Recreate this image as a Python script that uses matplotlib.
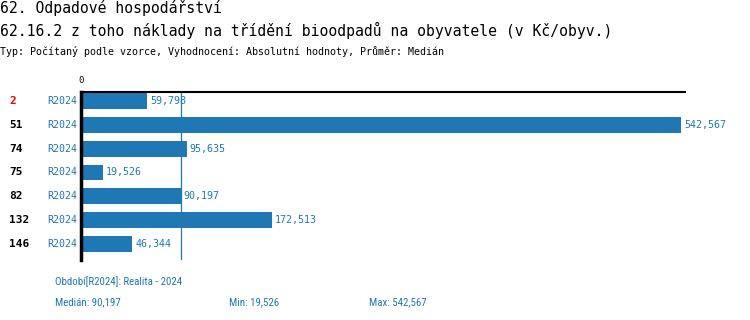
import matplotlib
matplotlib.use('Agg')
import matplotlib.pyplot as plt
import matplotlib.transforms as mtransforms
from matplotlib import font_manager

title1 = '62. Odpadové hospodářství'
title2 = '62.16.2 z toho náklady na třídění bioodpadů na obyvatele (v Kč/obyv.)'
subtitle = 'Typ: Počítaný podle vzorce, Vyhodnocení: Absolutní hodnoty, Průměr: Medián'

ids = ['2', '51', '74', '75', '82', '132', '146']
periods = ['R2024'] * 7
values = [59798, 542567, 95635, 19526, 90197, 172513, 46344]
median = 90197

footer_period = 'Období[R2024]: Realita - 2024'
footer_stats = ['Medián: 90,197', 'Min: 19,526', 'Max: 542,567']

blue = '#1f77b4'
mono = 'DejaVu Sans Mono'

# narrow font for the footer if one is there
names = {f.name for f in font_manager.fontManager.ttflist}
narrow = mono
for cand in ['Liberation Sans Narrow', 'DejaVu Sans Condensed', 'Roboto Condensed', 'Open Sans Condensed']:
    if cand in names:
        narrow = cand
        break

fig = plt.figure(figsize=(7.5, 3.2), dpi=100)
W, H = 750, 320

def fx(px):
    return px / W

def fy(py):
    return 1 - py / H

fig.text(0, fy(13), title1, family=mono, size=10.6, va='baseline')
fig.text(0, fy(36), title2, family=mono, size=10.6, va='baseline')
fig.text(0, fy(55), subtitle, family=mono, size=7.2, va='baseline')

ax = fig.add_axes([fx(81), fy(260), fx(604), (260 - 92) / H])
ax.set_xlim(0, 546200)
ax.set_ylim(6.67, -0.375)
ax.axis('off')

ypos = list(range(len(values)))
ax.barh(ypos, values, height=0.66, color=blue)
for y, v in zip(ypos, values):
    ax.text(v + 2800, y, f'{v:,}', family=mono, size=7.2, color=blue, va='center')

ax.axvline(median, color=blue, lw=0.9)
ax.plot([0, 1], [1, 1], transform=ax.transAxes, color='black', lw=1.5, clip_on=False)
ax.plot([0, 0], [0, 1], transform=ax.transAxes, color='black', lw=2.5, clip_on=False)
ax.text(0, 1.04, '0', transform=ax.transAxes, family=mono, size=6.5, ha='center', va='bottom')

tr = mtransforms.blended_transform_factory(fig.transFigure, ax.transData)
for y, lab, per in zip(ypos, ids, periods):
    c = 'red' if lab == '2' else 'black'
    fig.text(fx(9), y, lab, transform=tr, family=mono, weight='bold', size=8, color=c, va='center')
    fig.text(fx(47), y, per, transform=tr, family=mono, size=7.2, color=blue, va='center')

fig.text(fx(55), fy(282), footer_period, family=narrow, size=7.8, color=blue, va='center')
for x, s in zip([55, 229, 369], footer_stats):
    fig.text(fx(x), fy(302), s, family=narrow, size=7.8, color=blue, va='center')

fig.savefig('out.png', dpi=100)
